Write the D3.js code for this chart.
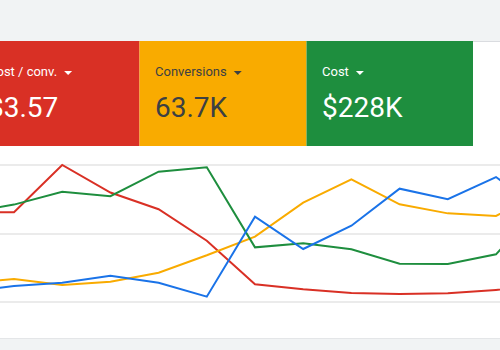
<!DOCTYPE html>
<html>
<head>
<meta charset="utf-8">
<script src="https://cdn.jsdelivr.net/npm/d3@7"></script>
<style>
  html, body { margin: 0; padding: 0; background: #f1f3f4; }
  svg { display: block; }
</style>
</head>
<body>
<svg id="chart" width="500" height="350"></svg>
<script>
// ---- data ----
const periods = ["W1","W2","W3","W4","W5","W6","W7","W8","W9","W10","W11","W12","W13"];
const cardLabels = ["Cost / conv.", "Conversions", "Cost"];
const cardValues = ["$3.57", "63.7K", "$228K"];
// normalized series values (share of each metric's own axis, 0-100)
const costPerConv = [65.5, 65.5, 100, 79.9, 67.7, 44.7, 12.9, 9.3, 6.6, 5.8, 6.4, 8.8, 11.7];
const conversions = [13.5, 16.8, 12.4, 14.8, 21.4, 34.1, 47.7, 72.5, 89.6, 71.3, 64.7, 62.8, 80.3];
const cost        = [65.0, 71.1, 80.5, 77.2, 95.1, 98.3, 39.9, 42.8, 38.5, 28.0, 27.7, 34.8, 73.0];
const clicks      = [7.3, 11.7, 14.1, 19.2, 14.1, 3.9, 62.3, 38.7, 55.7, 82.7, 75.0, 91.2, 65.0];
const gridTicks = [0, 50, 100];

const svg = d3.select("#chart");
const W = 500, H = 350;

// backgrounds
svg.append("rect").attr("x", 0).attr("y", 0).attr("width", W).attr("height", H).attr("fill", "#f1f3f4");
svg.append("rect").attr("x", 0).attr("y", 41).attr("width", W).attr("height", 298).attr("fill", "#ffffff");
svg.append("line").attr("x1", 0).attr("x2", W).attr("y1", 41.5).attr("y2", 41.5).attr("stroke", "#dadce0").attr("stroke-width", 1);
svg.append("line").attr("x1", 0).attr("x2", W).attr("y1", 338.5).attr("y2", 338.5).attr("stroke", "#e4e6e8").attr("stroke-width", 1);

// cards
const cardColors = ["#d93025", "#f9ab00", "#1e8e3e"];
const textColors = ["#ffffff", "#3c4043", "#ffffff"];
const cardX = d3.scaleLinear().domain([0, 1]).range([-27.5, 139.5]);
const cardW = 167;
const cards = svg.append("g").selectAll("g").data(cardLabels).join("g")
  .attr("transform", (d, i) => `translate(${cardX(i)},41)`);
cards.append("rect").attr("width", (d, i) => i === 2 ? 166.5 : cardW).attr("height", 105)
  .attr("fill", (d, i) => cardColors[i]);
const labels = cards.append("text")
  .attr("x", 15.5).attr("y", 35)
  .attr("font-family", "Roboto, sans-serif").attr("font-size", 13)
  .attr("fill", (d, i) => textColors[i])
  .text(d => d);
labels.each(function(d, i) {
  const w = this.getComputedTextLength();
  const x0 = 15.5 + w + 7;
  d3.select(this.parentNode).append("path")
    .attr("d", `M${x0},30L${x0 + 8},30L${x0 + 4},34Z`)
    .attr("fill", textColors[i]);
});
cards.append("text")
  .attr("x", 15.5).attr("y", 75.5)
  .attr("font-family", "Roboto, sans-serif").attr("font-size", 28)
  .attr("fill", (d, i) => textColors[i])
  .text((d, i) => cardValues[i]);

// chart
const x = d3.scalePoint().domain(periods).range([-34.2, 544.2]);
const y = d3.scaleLinear().domain([0, 100]).range([302, 165]);

svg.append("defs").append("clipPath").attr("id", "clip")
  .append("rect").attr("x", 0).attr("y", 146).attr("width", W).attr("height", 192);

svg.append("g").selectAll("line").data(gridTicks).join("line")
  .attr("x1", 0).attr("x2", W)
  .attr("y1", d => Math.round(y(d))).attr("y2", d => Math.round(y(d)))
  .attr("stroke", "#ebebeb").attr("stroke-width", 2);

const series = [
  { values: costPerConv, color: "#d93025" },
  { values: conversions, color: "#f9ab00" },
  { values: cost, color: "#1e8e3e" },
  { values: clicks, color: "#1a73e8" }
];
const line = d3.line().x((d, i) => x(periods[i])).y(d => y(d));
svg.append("g").attr("clip-path", "url(#clip)").selectAll("path").data(series).join("path")
  .attr("d", d => line(d.values))
  .attr("fill", "none")
  .attr("stroke", d => d.color)
  .attr("stroke-width", 2)
  .attr("stroke-linejoin", "miter");
</script>
</body>
</html>
